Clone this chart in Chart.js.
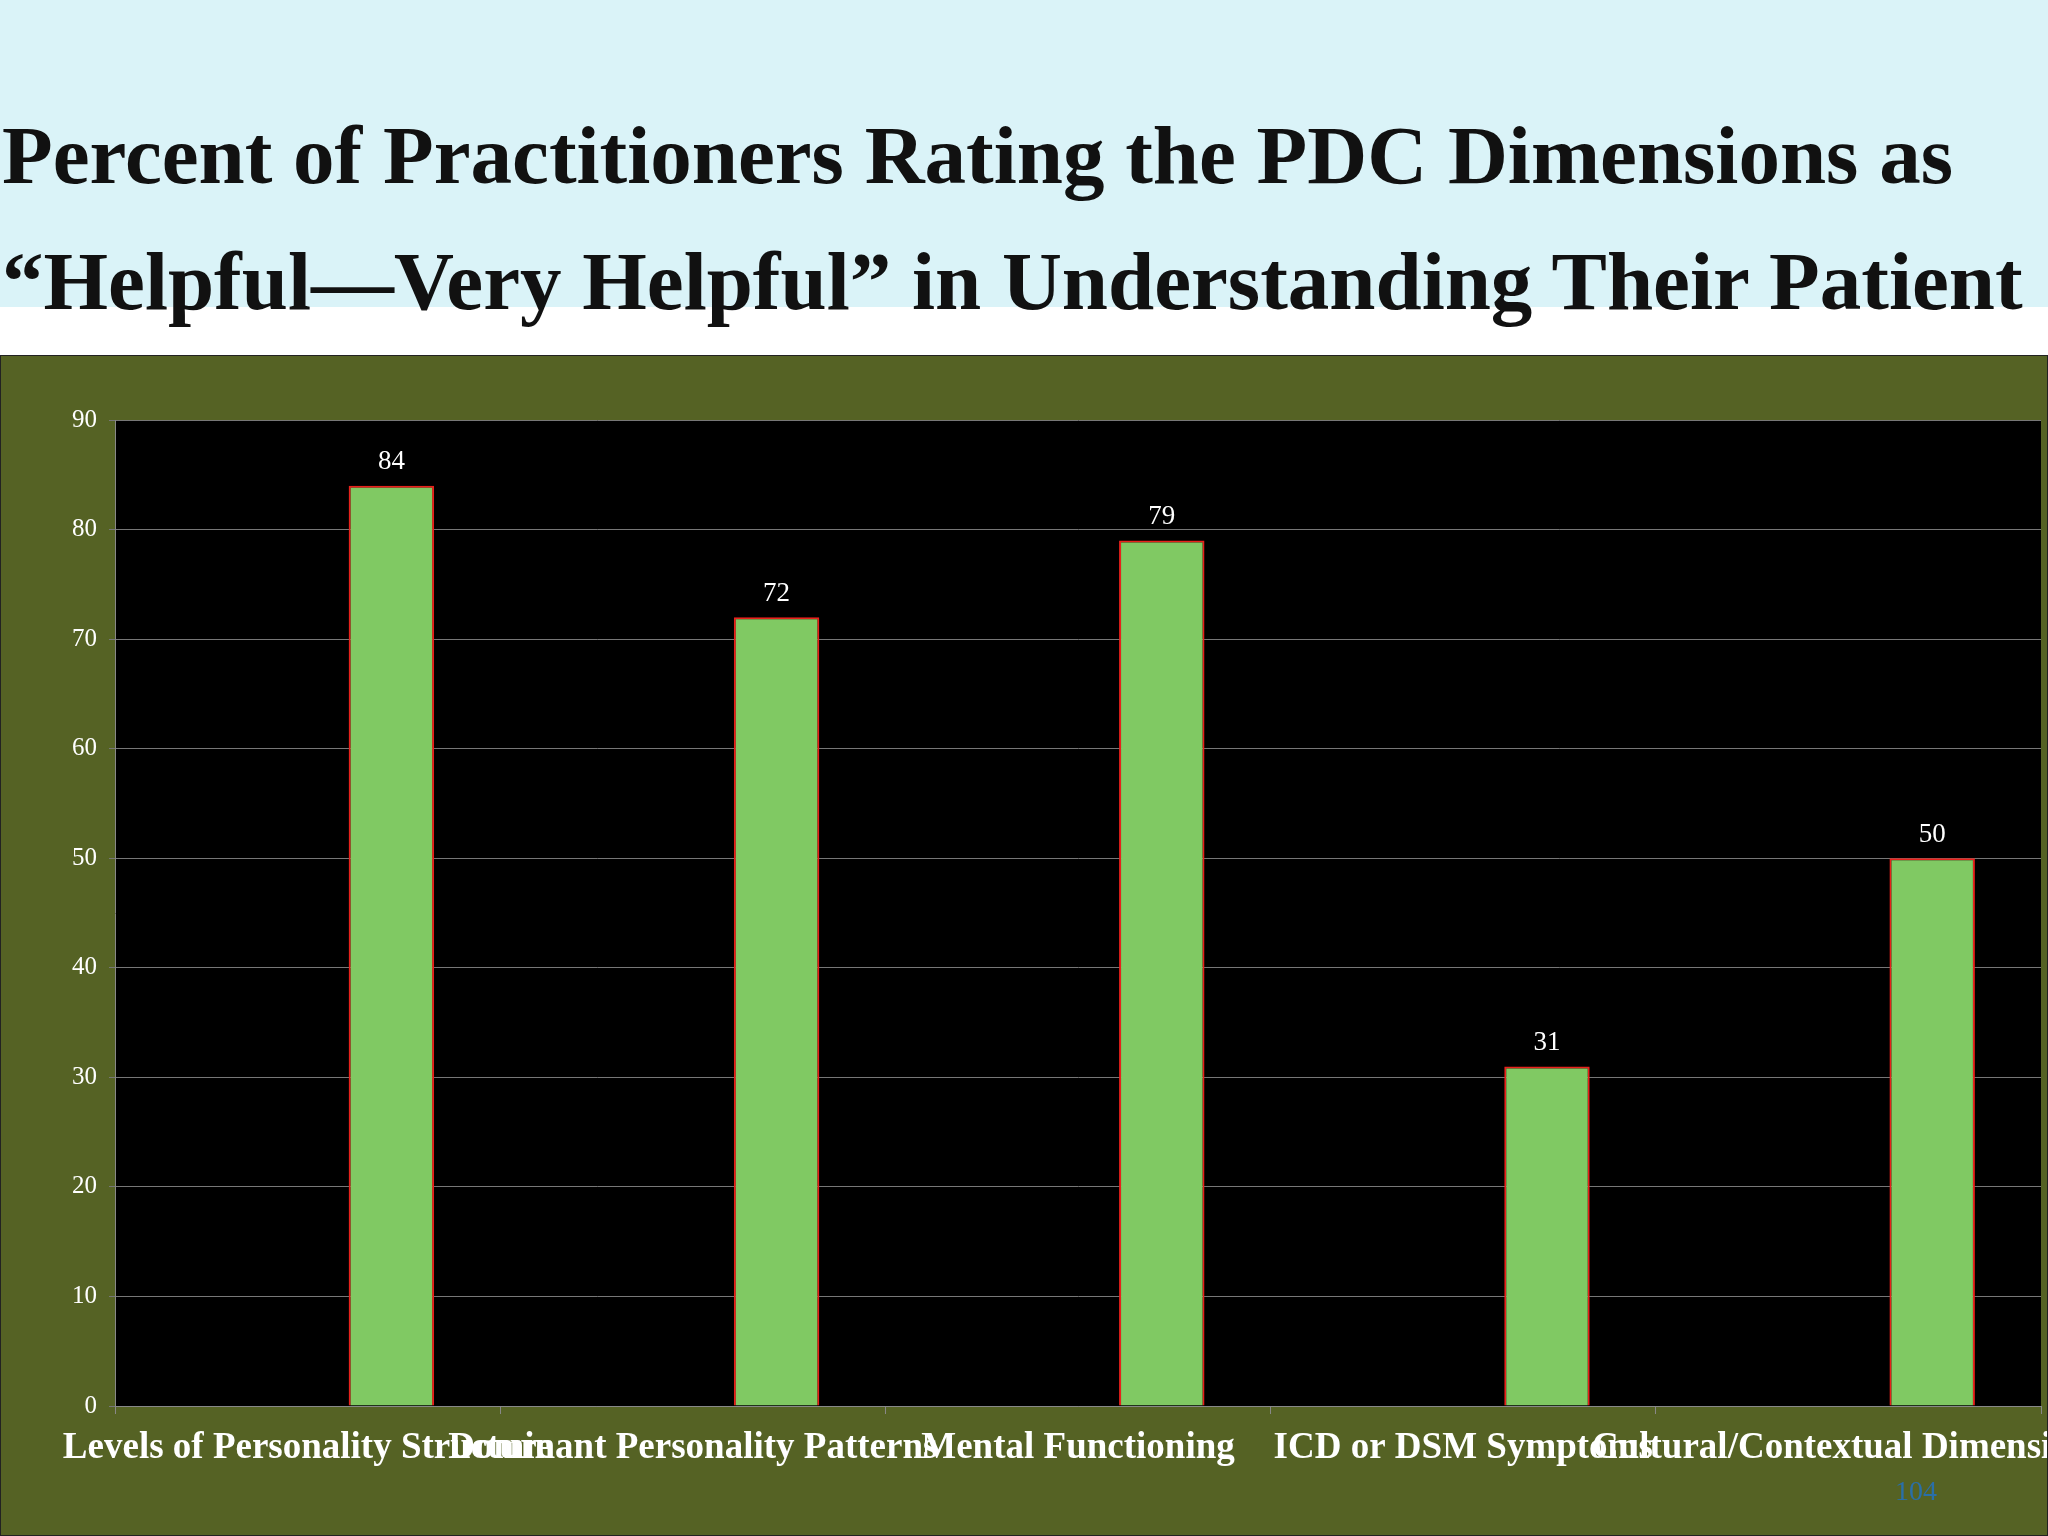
<!DOCTYPE html>
<html><head><meta charset="utf-8">
<script src="https://cdn.jsdelivr.net/npm/chart.js@4"></script>
<style>
html,body{margin:0;padding:0;width:2048px;height:1536px;overflow:hidden;background:#fff;}
#top{position:absolute;left:0;top:0;width:2048px;height:307px;background:#daf3f8;}
#title{position:absolute;left:2px;top:92px;font-family:"Liberation Serif","DejaVu Serif",serif;font-weight:bold;font-size:83px;line-height:126px;color:#111;white-space:nowrap;}
#panel{position:absolute;left:0;top:355px;width:2046px;height:1179px;background:#556224;border:1px solid #222;}
#pg{position:absolute;left:1895px;top:1475px;color:#2a6fa8;font-family:"Liberation Serif",serif;font-size:28px;}
</style></head><body>
<div id="top"></div>
<div id="title">Percent of Practitioners Rating the PDC Dimensions as<br>“Helpful—Very Helpful” in Understanding Their Patient</div>
<div id="panel"><canvas id="c" width="2046" height="1179"></canvas></div>
<div id="pg">104</div>
<script>
const categories=["Levels of Personality Structure","Dominant Personality Patterns","Mental Functioning","ICD or DSM Symptoms","Cultural/Contextual Dimensions"];
const values=[84,72,79,31,50];
const yTicks=[0,10,20,30,40,50,60,70,80,90];
const serif='"Liberation Serif","DejaVu Serif",serif';
const labelPlugin={id:'lbl',afterDatasetsDraw(ch){const m=ch.getDatasetMeta(1);const c=ch.ctx;c.save();c.fillStyle='#fff';c.font='27px '+serif;c.textAlign='center';c.textBaseline='bottom';m.data.forEach((b,i)=>c.fillText(values[i],b.x,b.y-10));c.restore();}};
const bgPlugin={id:'bg',beforeDraw(ch){const a=ch.chartArea,c=ch.ctx;c.save();c.fillStyle='#000';c.fillRect(a.left,a.top,a.right-a.left,a.bottom-a.top);c.restore();}};
new Chart(document.getElementById('c'),{type:'bar',
data:{labels:categories,datasets:[{data:categories.map(()=>null)},{data:values,backgroundColor:'#80c963',borderColor:'#e8211b',borderWidth:2}]},
options:{responsive:false,animation:false,events:[],
layout:{padding:{left:0,top:64,right:6,bottom:0}},
categoryPercentage:0.87,barPercentage:0.51,
plugins:{legend:{display:false},tooltip:{enabled:false}},
scales:{
x:{grid:{display:true,drawOnChartArea:false,color:'#888',tickLength:8,offset:true},border:{color:'#888'},
ticks:{autoSkip:false,maxRotation:0,minRotation:0,color:'#fff',font:{family:serif,weight:'bold',size:37},padding:12},
afterFit(s){s.height=129;s.paddingLeft=0;s.paddingRight=0;}},
y:{min:0,max:90,afterBuildTicks(s){s.ticks=yTicks.map(v=>({value:v}));},
grid:{color:'#777',tickLength:6},border:{color:'#888'},
ticks:{color:'#fff',font:{family:serif,size:25},padding:12},
afterFit(s){s.width=114;s.paddingTop=0;s.paddingBottom=0;}}
}},plugins:[bgPlugin,labelPlugin]});
</script></body></html>
